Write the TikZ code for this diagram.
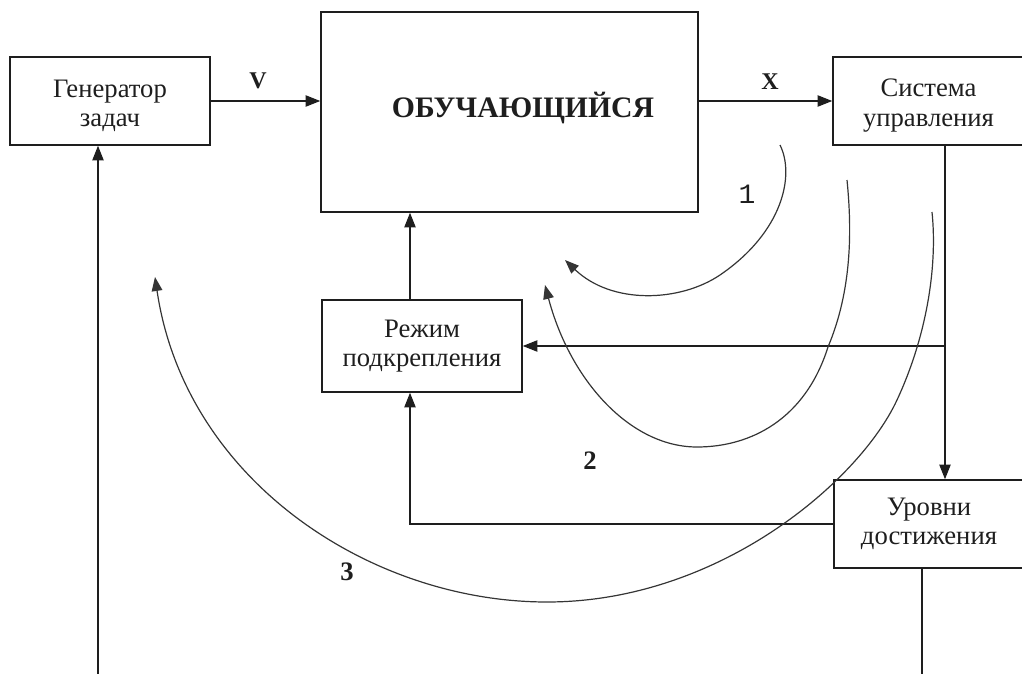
\documentclass[tikz,border=0pt]{standalone}
\usepackage{fontspec}
\setmainfont{Liberation Serif}
\newfontfamily\monofont{Liberation Mono}
\usetikzlibrary{arrows.meta}
\def\pxu{0.75pt}
\newcommand\lowerfirst{\rule{0pt}{1.0em}}
\definecolor{ink}{HTML}{1E1E1E}
\tikzset{
  blk/.style={draw=ink, line width=1.1pt, minimum height=88*\pxu, inner sep=0pt,
    align=center, font=\fontsize{20}{22}\selectfont, text=ink},
  conn/.style={draw=ink, line width=1pt, -{Triangle[length=11pt,width=8.5pt]}},
  plainline/.style={draw=ink, line width=1pt},
  arcline/.style={draw=ink!90, line width=0.9pt, -{Triangle[length=10.5pt,width=8pt]}},
  lbl/.style={font=\fontsize{18}{18}\selectfont\bfseries, text=ink},
  numlbl/.style={font=\fontsize{20}{20}\selectfont\bfseries, text=ink},
}
\begin{document}
\begin{tikzpicture}[x=0.75pt,y=-0.75pt]
\useasboundingbox (0,0) rectangle (1022,674);

% boxes
\node[blk, minimum width=200*\pxu] (gen) at (110,101) {\lowerfirst Генератор\\задач};
\node[blk, minimum width=377*\pxu, minimum height=200*\pxu] (learner) at (509.5,112) {};
\node[font=\fontsize{22.3}{22.3}\selectfont\bfseries, text=ink] (lt) at (523,108) {ОБУЧАЮЩИЙСЯ};
\node[blk, minimum width=191*\pxu] (sys) at (928.5,101) {\lowerfirst Система\\управления};
\node[blk, minimum width=200*\pxu, minimum height=92*\pxu] (mode) at (422,346) {Режим\\подкрепления};
\node[blk, minimum width=190*\pxu] (lev) at (929,524) {Уровни\\достижения};

% helper coordinates
\coordinate (tx) at (945,0);
\coordinate (mx) at (410,0);
\coordinate (bl) at (98,690);
\coordinate (br) at (922,690);

% connectors
\draw[conn] (gen.east) -- (gen.east -| learner.west);
\draw[conn] (sys.west -| learner.east) -- (sys.west);
\draw[conn] (tx |- sys.south) -- (tx |- lev.north);
\draw[conn] (tx |- mode.east) -- (mode.east);
\draw[conn] (mx |- mode.north) -- (mx |- learner.south);
\draw[conn] (lev.west) -- (mx |- lev.west) -- (mx |- mode.south);
\draw[plainline] (br |- lev.south) -- (br);
\draw[conn] (bl) -- (bl |- gen.south);

% labels
\node[lbl] (lv) at (258,81) {V};
\node[lbl] (lx) at (770,82) {X};
\node[font=\monofont\fontsize{21}{21}\selectfont, text=ink] (l1) at (747,194) {1};
\node[numlbl] (l2) at (590,461) {2};
\node[numlbl] (l3) at (347,572) {3};

% curved arrows
\coordinate (c1s) at (780,145);
\coordinate (c1e) at (565,260);
\draw[arcline] (c1s) .. controls (795,175) and (783,232) .. (720,275)
  .. controls (680,302) and (612,305) .. (c1e);
\coordinate (c2s) at (847,180);
\coordinate (c2e) at (545,285);
\draw[arcline] (c2s) .. controls (852,230) and (852,290) .. (828,347)
  .. controls (805,420) and (750,447) .. (697,447)
  .. controls (630,447) and (570,380) .. (c2e);
\coordinate (c3s) at (932,212);
\coordinate (c3e) at (155,277);
\draw[arcline] (c3s) .. controls (938,270) and (925,340) .. (897,400)
  .. controls (860,480) and (720,602) .. (547,602)
  .. controls (370,602) and (185,480) .. (c3e);
\end{tikzpicture}
\end{document}
